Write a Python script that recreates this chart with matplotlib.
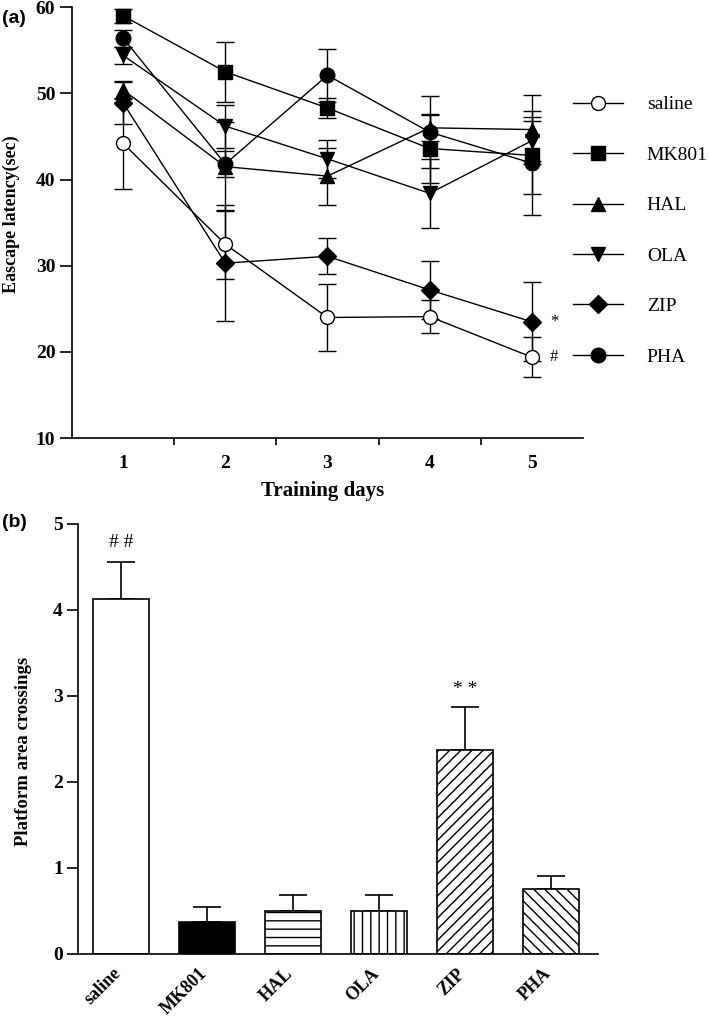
import numpy as np
import matplotlib
matplotlib.use("Agg")
import matplotlib.pyplot as plt
import matplotlib.transforms as mtransforms
from matplotlib.lines import Line2D
from matplotlib.ticker import FixedLocator

plt.rcParams['font.family'] = ['Liberation Serif', 'DejaVu Serif']
plt.rcParams['hatch.linewidth'] = 1.0

# ---- data: (a) escape latency ----
days = [1, 2, 3, 4, 5]
groups = ['saline', 'MK801', 'HAL', 'OLA', 'ZIP', 'PHA']
saline = [44.2, 32.5, 24.0, 24.1, 19.4]
saline_err = [5.3, 4.0, 3.9, 1.9, 2.3]
mk801 = [59.0, 52.5, 48.3, 43.6, 42.8]
mk801_err = [0.8, 3.5, 1.2, 4.0, 4.5]
hal = [50.4, 41.5, 40.4, 46.0, 45.8]
hal_err = [1.0, 5.2, 3.3, 1.5, 4.0]
ola = [54.4, 46.2, 42.4, 38.4, 44.5]
ola_err = [1.0, 2.5, 2.2, 4.0, 2.3]
zip_ = [48.9, 30.3, 31.1, 27.2, 23.5]
zip_err = [2.4, 6.7, 2.1, 3.4, 4.6]
pha = [56.4, 41.8, 52.1, 45.5, 41.9]
pha_err = [1.0, 1.5, 3.1, 4.2, 6.0]

# ---- data: (b) platform crossings ----
crossings = [4.12, 0.37, 0.50, 0.50, 2.37, 0.75]
crossings_err = [0.44, 0.18, 0.18, 0.18, 0.50, 0.16]

fig = plt.figure(figsize=(7.09, 10.19), dpi=100)

# -------------------------------
# (a) line chart
# -------------------------------
ax1 = fig.add_axes([0.1016, 0.570, 0.7205, 0.423])
series = [
    (saline, saline_err, 'o', 'white', 10),
    (mk801, mk801_err, 's', 'black', 10),
    (hal, hal_err, '^', 'black', 10),
    (ola, ola_err, 'v', 'black', 10),
    (zip_, zip_err, 'D', 'black', 9),
    (pha, pha_err, 'o', 'black', 10.5),
]
handles = []
for (vals, err, m, fc, ms), name in zip(series, groups):
    ax1.errorbar(days, vals, yerr=err, color='black', lw=1.0,
                 marker=m, mfc=fc, mec='black', mew=1.0, ms=ms,
                 capsize=6.5, elinewidth=1.0, capthick=1.0)
    handles.append(Line2D([], [], color='black', lw=1.0, marker=m, mfc=fc,
                          mec='black', mew=1.0, ms=ms))

ax1.text(5.18, zip_[4], '*', fontsize=12, va='center', ha='left')
ax1.text(5.18, saline[4], '#', fontsize=12, va='center', ha='left')

ax1.set_xlim(0.5, 5.5)
ax1.set_ylim(10, 60)
ax1.set_yticks([10, 20, 30, 40, 50, 60])
ax1.set_xticks(days)
ax1.xaxis.set_minor_locator(FixedLocator([1.5, 2.5, 3.5, 4.5]))
ax1.tick_params(axis='x', which='major', length=0, pad=12)
ax1.tick_params(axis='x', which='minor', length=5, width=1.2, direction='out')
ax1.tick_params(axis='y', length=9, width=1.2, direction='out', pad=3)
for lab in ax1.get_xticklabels() + ax1.get_yticklabels():
    lab.set_fontsize(14)
    lab.set_fontweight('bold')
ax1.spines['top'].set_visible(False)
ax1.spines['right'].set_visible(False)
ax1.spines['left'].set_linewidth(1.2)
ax1.spines['bottom'].set_linewidth(1.2)
ax1.set_ylabel('Eascape latency(sec)', fontsize=13, fontweight='bold')
ax1.yaxis.set_label_coords(-0.102, 0.52)
ax1.set_xlabel('Training days', fontsize=15, fontweight='bold')
ax1.xaxis.set_label_coords(0.49, -0.1)

ax1.legend(handles=handles, labels=groups, loc='upper left',
           bbox_to_anchor=(0.808, 0.906), bbox_transform=fig.transFigure,
           frameon=False, fontsize=14, labelspacing=1.69,
           handlelength=2.6, handletextpad=1.2, borderpad=0,
           borderaxespad=0)

fig.text(0.003, 0.982, '(a)', fontsize=14, fontweight='bold',
         family='Liberation Sans', va='center', ha='left')

# -------------------------------
# (b) bar chart
# -------------------------------
ax2 = fig.add_axes([0.110, 0.0638, 0.7334, 0.4222])
x = np.arange(len(groups))
facecolors = ['white', 'black', 'white', 'white', 'white', 'white']
hatches = [None, None, '--', '||', '///', '\\\\\\']
bars = ax2.bar(x, crossings, width=0.65, color=facecolors, edgecolor='black',
               linewidth=1.2, zorder=2)
for b, h in zip(bars, hatches):
    if h:
        b.set_hatch(h)
ax2.errorbar(x, crossings, yerr=[np.zeros(len(x)), crossings_err], fmt='none',
             ecolor='black', elinewidth=1.2, capsize=10, capthick=1.2, zorder=1)

ax2.text(0, crossings[0] + crossings_err[0] + 0.12, '# #', ha='center',
         va='bottom', fontsize=14)
ax2.text(4, crossings[4] + crossings_err[4] + 0.1, '* *', ha='center',
         va='bottom', fontsize=14)

ax2.set_xlim(-0.5, 5.55)
ax2.set_ylim(0, 5)
ax2.set_yticks([0, 1, 2, 3, 4, 5])
ax2.set_xticks(x)
ax2.set_xticklabels(groups, rotation=45, ha='right', rotation_mode='anchor')
ax2.tick_params(axis='x', length=0, pad=8)
ax2.tick_params(axis='y', length=8, width=1.2, direction='out', pad=3)
shift = mtransforms.ScaledTranslation(-6 / 72, 0, fig.dpi_scale_trans)
for lab in ax2.get_xticklabels():
    lab.set_fontsize(13)
    lab.set_fontweight('bold')
    lab.set_transform(lab.get_transform() + shift)
for lab in ax2.get_yticklabels():
    lab.set_fontsize(14)
    lab.set_fontweight('bold')
ax2.spines['top'].set_visible(False)
ax2.spines['right'].set_visible(False)
ax2.spines['left'].set_linewidth(1.2)
ax2.spines['bottom'].set_linewidth(1.2)
ax2.set_ylabel('Platform area crossings', fontsize=13.5, fontweight='bold')
ax2.yaxis.set_label_coords(-0.088, 0.47)

fig.text(0.003, 0.487, '(b)', fontsize=14, fontweight='bold',
         family='Liberation Sans', va='center', ha='left')

fig.savefig('out.png', dpi=100)
